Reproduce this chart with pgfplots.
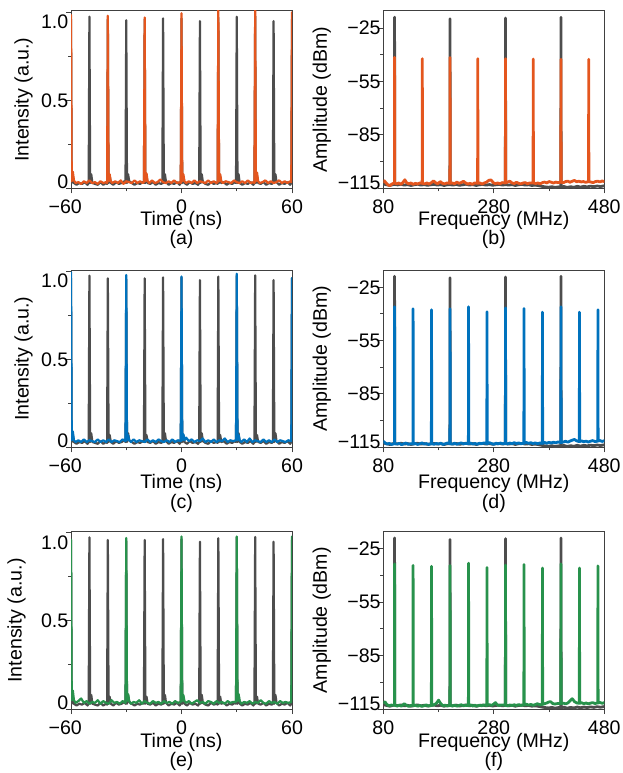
\documentclass[border=0pt]{standalone}
\usepackage{fontspec}
\setmainfont{Liberation Sans}
\usepackage{pgfplots}
\usepackage{pgfplotstable}
\pgfplotsset{compat=1.18}

\definecolor{trgray}{RGB}{77,77,77}
\definecolor{trorange}{RGB}{228,86,30}
\definecolor{trblue}{RGB}{0,114,189}
\definecolor{trgreen}{RGB}{40,146,76}

% reference trace (100 MHz), same in all panels
\pgfplotstableread[row sep=\\]{t v\\
-60 0.96\\ -59.6 0.03\\ -59 0.07\\ -58.4 0.03\\ -57 0.02\\ -55.5 0.03\\ -54 0.025\\ -52.5 0.035\\ -51 0.02\\ -50.4 0.03\\
-50 0.975\\ -49.6 0.03\\ -49 0.08\\ -48.4 0.03\\ -47 0.025\\ -45.5 0.02\\ -44 0.035\\ -42.5 0.02\\ -41 0.03\\ -40.4 0.025\\
-40 0.96\\ -39.6 0.03\\ -39 0.07\\ -38.4 0.03\\ -37 0.02\\ -35.5 0.035\\ -34 0.025\\ -32.5 0.03\\ -31 0.04\\ -30.4 0.03\\
-30 0.955\\ -29.6 0.03\\ -29 0.08\\ -28.4 0.04\\ -27 0.03\\ -25.5 0.02\\ -24 0.03\\ -22.5 0.025\\ -21 0.035\\ -20.4 0.03\\
-20 0.96\\ -19.6 0.03\\ -19 0.07\\ -18.4 0.03\\ -17 0.025\\ -15.5 0.035\\ -14 0.02\\ -12.5 0.03\\ -11 0.025\\ -10.4 0.03\\
-10 0.965\\ -9.6 0.03\\ -9 0.08\\ -8.4 0.035\\ -7 0.02\\ -5.5 0.03\\ -4 0.025\\ -2.5 0.035\\ -1 0.02\\ -0.4 0.03\\
0 0.965\\ 0.4 0.03\\ 1 0.07\\ 1.6 0.03\\ 3 0.02\\ 4.5 0.035\\ 6 0.025\\ 7.5 0.03\\ 9 0.02\\ 9.6 0.03\\
10 0.95\\ 10.4 0.03\\ 11 0.08\\ 11.6 0.035\\ 13 0.025\\ 14.5 0.02\\ 16 0.035\\ 17.5 0.025\\ 19 0.03\\ 19.6 0.025\\
20 0.97\\ 20.4 0.03\\ 21 0.07\\ 21.6 0.03\\ 23 0.035\\ 24.5 0.02\\ 26 0.03\\ 27.5 0.025\\ 29 0.035\\ 29.6 0.03\\
30 0.975\\ 30.4 0.03\\ 31 0.08\\ 31.6 0.03\\ 33 0.02\\ 34.5 0.03\\ 36 0.025\\ 37.5 0.035\\ 39 0.02\\ 39.6 0.03\\
40 0.977\\ 40.4 0.03\\ 41 0.07\\ 41.6 0.03\\ 43 0.025\\ 44.5 0.035\\ 46 0.02\\ 47.5 0.03\\ 49 0.025\\ 49.6 0.03\\
50 0.95\\ 50.4 0.03\\ 51 0.08\\ 51.6 0.035\\ 53 0.02\\ 54.5 0.03\\ 56 0.025\\ 57.5 0.035\\ 59 0.02\\ 59.6 0.03\\
60 0.96\\
}\graytime

\pgfplotstableread[row sep=\\]{t v\\
-60 0.985\\ -59.6 0.04\\ -59 0.094\\ -58.4 0.045\\ -57.5 0.03\\ -56 0.035\\ -54.5 0.025\\ -53 0.04\\ -51.5 0.03\\ -50 0.045\\ -48.5 0.03\\ -47 0.035\\ -45.5 0.025\\ -44 0.04\\ -42.5 0.03\\ -41 0.035\\ -40.4 0.03\\
-40 0.98\\ -39.6 0.04\\ -39 0.08\\ -38.4 0.04\\ -37.5 0.03\\ -36 0.04\\ -34.5 0.03\\ -33 0.045\\ -31.5 0.025\\ -30 0.04\\ -28.5 0.035\\ -27 0.03\\ -25.5 0.045\\ -24 0.03\\ -22.5 0.04\\ -21 0.03\\ -20.4 0.035\\
-20 0.97\\ -19.6 0.04\\ -19 0.085\\ -18.4 0.04\\ -17.5 0.03\\ -16 0.045\\ -14.5 0.03\\ -13 0.035\\ -11.5 0.05\\ -10 0.035\\ -8.5 0.03\\ -7 0.04\\ -5.5 0.03\\ -4 0.045\\ -2.5 0.03\\ -1 0.035\\ -0.4 0.03\\
0 0.994\\ 0.4 0.04\\ 1 0.08\\ 1.6 0.04\\ 2.5 0.03\\ 4 0.04\\ 5.5 0.03\\ 7 0.045\\ 8.5 0.03\\ 10 0.04\\ 11.5 0.035\\ 13 0.03\\ 14.5 0.045\\ 16 0.03\\ 17.5 0.04\\ 19 0.03\\ 19.6 0.035\\
20 1.02\\ 20.4 0.04\\ 21 0.08\\ 21.6 0.04\\ 22.5 0.03\\ 24 0.04\\ 25.5 0.035\\ 27 0.03\\ 28.5 0.045\\ 30 0.035\\ 31.5 0.03\\ 33 0.04\\ 34.5 0.03\\ 36 0.045\\ 37.5 0.03\\ 39 0.035\\ 39.6 0.03\\
40 1.02\\ 40.4 0.04\\ 41 0.09\\ 41.6 0.04\\ 42.5 0.03\\ 44 0.035\\ 45.5 0.045\\ 47 0.03\\ 48.5 0.04\\ 50 0.03\\ 51.5 0.035\\ 53 0.045\\ 54.5 0.03\\ 56 0.04\\ 57.5 0.03\\ 59 0.04\\ 59.6 0.035\\
60 1.0\\
}\orangetime

\pgfplotstableread[row sep=\\]{t v\\
-60 0.994\\ -59.6 0.04\\ -59 0.09\\ -58.4 0.04\\ -57.5 0.03\\ -56 0.04\\ -54.5 0.03\\ -53 0.045\\ -51.5 0.03\\ -50 0.04\\ -48.5 0.035\\ -47 0.03\\ -45.5 0.045\\ -44 0.03\\ -42.5 0.04\\ -41 0.03\\ -39.5 0.045\\ -38 0.03\\ -36.5 0.04\\ -35 0.035\\ -33.5 0.03\\ -32 0.045\\ -30.4 0.035\\
-30 0.979\\ -29.6 0.04\\ -29 0.07\\ -28.4 0.04\\ -27.5 0.03\\ -26 0.045\\ -24.5 0.03\\ -23 0.04\\ -21.5 0.035\\ -20 0.03\\ -18.5 0.045\\ -17 0.03\\ -15.5 0.04\\ -14 0.03\\ -12.5 0.045\\ -11 0.035\\ -9.5 0.03\\ -8 0.04\\ -6.5 0.03\\ -5 0.045\\ -3.5 0.03\\ -2 0.04\\ -0.4 0.035\\
0 0.97\\ 0.4 0.04\\ 1 0.075\\ 1.6 0.04\\ 2.5 0.055\\ 4 0.035\\ 5.5 0.045\\ 7 0.03\\ 8.5 0.04\\ 10 0.035\\ 11.5 0.05\\ 13 0.03\\ 14.5 0.04\\ 16 0.03\\ 17.5 0.045\\ 19 0.03\\ 20.5 0.04\\ 22 0.035\\ 23.5 0.05\\ 25 0.03\\ 26.5 0.04\\ 28 0.035\\ 29.6 0.04\\
30 0.986\\ 30.4 0.04\\ 31 0.07\\ 31.6 0.04\\ 32.5 0.03\\ 34 0.045\\ 35.5 0.03\\ 37 0.05\\ 38.5 0.03\\ 40 0.04\\ 41.5 0.035\\ 43 0.03\\ 44.5 0.045\\ 46 0.03\\ 47.5 0.04\\ 49 0.03\\ 50.5 0.045\\ 52 0.03\\ 53.5 0.04\\ 55 0.035\\ 56.5 0.03\\ 58 0.04\\ 59.6 0.035\\
60 0.962\\
}\bluetime

\pgfplotstableread[row sep=\\]{t v\\
-60 0.963\\ -59.6 0.05\\ -59 0.105\\ -58.4 0.05\\ -57.5 0.035\\ -56 0.045\\ -54.5 0.06\\ -53 0.035\\ -51.5 0.045\\ -50 0.03\\ -48.5 0.04\\ -47 0.035\\ -45.5 0.05\\ -44 0.03\\ -42.5 0.045\\ -41 0.035\\ -39.5 0.03\\ -38 0.05\\ -36.5 0.035\\ -35 0.04\\ -33.5 0.03\\ -32 0.045\\ -30.4 0.035\\
-30 0.972\\ -29.6 0.045\\ -29 0.085\\ -28.4 0.045\\ -27.5 0.03\\ -26 0.04\\ -24.5 0.035\\ -23 0.05\\ -21.5 0.03\\ -20 0.045\\ -18.5 0.035\\ -17 0.03\\ -15.5 0.045\\ -14 0.035\\ -12.5 0.04\\ -11 0.03\\ -9.5 0.045\\ -8 0.035\\ -6.5 0.04\\ -5 0.03\\ -3.5 0.045\\ -2 0.035\\ -0.4 0.04\\
0 0.98\\ 0.4 0.045\\ 1 0.08\\ 1.6 0.045\\ 2.5 0.035\\ 4 0.045\\ 5.5 0.03\\ 7 0.04\\ 8.5 0.05\\ 10 0.035\\ 11.5 0.04\\ 13 0.03\\ 14.5 0.045\\ 16 0.04\\ 17.5 0.03\\ 19 0.045\\ 20.5 0.035\\ 22 0.04\\ 23.5 0.03\\ 25 0.045\\ 26.5 0.035\\ 28 0.04\\ 29.6 0.04\\
30 0.98\\ 30.4 0.045\\ 31 0.085\\ 31.6 0.045\\ 32.5 0.03\\ 34 0.04\\ 35.5 0.035\\ 37 0.045\\ 38.5 0.03\\ 40 0.04\\ 41.5 0.035\\ 43 0.05\\ 44.5 0.035\\ 46 0.03\\ 47.5 0.045\\ 49 0.035\\ 50.5 0.04\\ 52 0.03\\ 53.5 0.045\\ 55 0.035\\ 56.5 0.04\\ 58 0.035\\ 59.6 0.04\\
60 0.98\\
}\greentime

% spectra
\pgfplotstableread[row sep=\\]{f a\\
80 -112.6\\ 86 -113\\ 92 -113.4\\ 98 -112.9\\ 100.1 -112.8\\ 100.4 -18.8\\ 100.7 -112.8\\ 106 -113.1\\ 112 -112.7\\ 118 -113.2\\ 124 -112.9\\ 130 -113.4\\ 136 -113\\ 142 -112.7\\ 148 -113.2\\ 154 -112.9\\ 160 -113.3\\ 166 -113\\ 172 -112.8\\ 178 -113.2\\ 184 -112.9\\ 190 -113.4\\ 196 -113\\
200.5 -112.9\\ 200.8 -19.7\\ 201.1 -112.9\\ 206 -113.2\\ 212 -112.8\\ 218 -113.3\\ 224 -113\\ 230 -112.7\\ 236 -113.2\\ 242 -112.9\\ 248 -113.4\\ 254 -113\\ 260 -112.8\\ 266 -113.2\\ 272 -112.9\\ 278 -113.3\\ 284 -113\\ 290 -112.8\\ 296 -113.2\\
300.9 -112.9\\ 301.2 -19.2\\ 301.5 -112.9\\ 307 -113.2\\ 313 -112.9\\ 319 -113.4\\ 325 -113\\ 331 -112.8\\ 337 -113.2\\ 343 -113\\ 349 -113.4\\ 355 -113.2\\ 361 -113.5\\ 367 -113.9\\ 373 -114.2\\ 379 -114.4\\ 385 -114.1\\ 391 -114.5\\ 397 -114.2\\
401.3 -114.3\\ 401.6 -18.8\\ 401.9 -114.3\\ 407 -114\\ 413 -114.5\\ 419 -114.1\\ 425 -114.4\\ 431 -113.9\\ 437 -114.3\\ 443 -113.9\\ 449 -114.2\\ 455 -113.8\\ 461 -114.1\\ 467 -113.7\\ 473 -114\\ 480 -113.6\\
}\grayfreq

\pgfplotstableread[row sep=\\]{f a\\
80 -111.5\\ 82 -110.8\\ 85 -112\\ 88 -113\\ 92 -113.5\\ 96 -112.5\\ 100.1 -112\\ 100.4 -41.3\\ 100.7 -112\\ 104 -112.5\\ 108 -112\\ 112 -112.8\\ 116 -111.5\\ 119 -110.2\\ 122 -111.8\\ 126 -112.5\\ 130 -112\\ 134 -112.8\\ 138 -112.2\\ 142 -112.6\\ 146 -112\\
150.3 -112.2\\ 150.6 -42.1\\ 150.9 -112.2\\ 155 -112.5\\ 159 -112\\ 163 -112.6\\ 167 -111.8\\ 171 -110.8\\ 175 -112\\ 179 -112.4\\ 183 -111.2\\ 187 -112.2\\ 191 -112.5\\ 195 -112\\
200.5 -112.2\\ 200.8 -41.5\\ 201.1 -112.2\\ 205 -112\\ 209 -112.5\\ 213 -111.5\\ 217 -112.2\\ 221 -111.8\\ 225 -111\\ 229 -112\\ 233 -112.6\\ 237 -112.2\\ 241 -112.8\\ 245 -112\\
250.7 -112.2\\ 251 -42.1\\ 251.3 -112.2\\ 255 -112\\ 259 -112.6\\ 263 -112\\ 267 -111.5\\ 271 -110.5\\ 275 -110.3\\ 279 -111.8\\ 283 -112.4\\ 287 -112\\ 291 -112.5\\ 295 -111.8\\
300.9 -112\\ 301.2 -42.1\\ 301.5 -112\\ 305 -111.5\\ 309 -111\\ 313 -112\\ 317 -112.3\\ 321 -111.6\\ 325 -112.2\\ 329 -112.5\\ 333 -112\\ 337 -111.8\\ 341 -112.4\\ 345 -112\\
351.1 -112\\ 351.4 -42.3\\ 351.7 -112\\ 356 -112.3\\ 360 -112\\ 364 -112.5\\ 368 -111.8\\ 372 -111.5\\ 376 -112\\ 380 -111.2\\ 384 -111.6\\ 388 -112\\ 392 -111.5\\ 396 -111.8\\
401.3 -111.6\\ 401.6 -42.5\\ 401.9 -111.6\\ 406 -111.8\\ 410 -111.2\\ 414 -111\\ 418 -111.6\\ 422 -111\\ 426 -110.6\\ 430 -111.3\\ 434 -111\\ 438 -111.4\\ 442 -111.2\\ 446 -111.6\\
451.5 -111.3\\ 451.8 -42.5\\ 452.1 -111.3\\ 456 -111.5\\ 460 -111.8\\ 464 -111.2\\ 468 -111\\ 472 -111.4\\ 476 -110.9\\ 480 -111.2\\
}\orangefreq

\pgfplotstableread[row sep=\\]{f a\\
80 -111.6\\ 83 -112.5\\ 87 -113.2\\ 91 -112.8\\ 95 -113.4\\ 100.1 -113\\ 100.4 -36\\ 100.7 -113\\ 105 -113.2\\ 109 -112.8\\ 113 -113.5\\ 117 -113\\ 121 -112.6\\ 125 -113.3\\ 129 -113\\
133.6 -113.2\\ 133.9 -37.1\\ 134.2 -113.2\\ 138 -112.8\\ 142 -113.4\\ 146 -113\\ 150 -112.5\\ 154 -113.2\\ 158 -112.9\\ 162 -113.4\\
167 -113\\ 167.3 -37.7\\ 167.6 -113\\ 172 -113.3\\ 176 -112.8\\ 180 -113.2\\ 184 -112.7\\ 188 -113.4\\ 192 -113\\ 196 -112.6\\
200.5 -113\\ 200.8 -37.1\\ 201.1 -113\\ 205 -113.2\\ 209 -112.7\\ 213 -113.3\\ 217 -112.9\\ 221 -112.5\\ 225 -113.1\\ 229 -112.8\\
234 -113\\ 234.3 -36\\ 234.6 -113\\ 238 -112.6\\ 242 -113.2\\ 246 -112.8\\ 250 -113.3\\ 254 -112.7\\ 258 -113\\ 262 -112.5\\
267.4 -113\\ 267.7 -38.8\\ 268 -113\\ 272 -112.4\\ 276 -112.9\\ 280 -113.3\\ 284 -112.7\\ 288 -113.1\\ 292 -112.6\\ 296 -113\\
300.9 -112.8\\ 301.2 -36.6\\ 301.5 -112.8\\ 305 -113.1\\ 309 -112.6\\ 313 -113\\ 317 -112.4\\ 321 -112.9\\ 325 -112.5\\ 329 -113\\
334.4 -112.7\\ 334.7 -37\\ 335 -112.7\\ 339 -112.3\\ 343 -112.8\\ 347 -112.4\\ 351 -112.9\\ 355 -112.5\\ 359 -113\\ 363 -112.6\\
367.8 -112.8\\ 368.1 -39\\ 368.4 -112.8\\ 372 -112.3\\ 376 -112.7\\ 380 -112.2\\ 384 -112.6\\ 388 -112.1\\ 392 -112.5\\ 396 -112\\
401.3 -112.3\\ 401.6 -36\\ 401.9 -112.3\\ 406 -112\\ 410 -111.6\\ 414 -112.1\\ 418 -111.5\\ 422 -111\\ 426 -110.6\\ 430 -111.4\\
434.8 -111.8\\ 435.1 -39\\ 435.4 -111.8\\ 439 -111.4\\ 443 -111.9\\ 447 -111.5\\ 451 -112\\ 455 -111.6\\ 459 -111.2\\ 463 -111.8\\
468.2 -111.5\\ 468.5 -37.7\\ 468.8 -111.5\\ 472 -111.2\\ 476 -111.7\\ 480 -111.3\\
}\bluefreq

\pgfplotstableread[row sep=\\]{f a\\
80 -111.5\\ 83 -110.9\\ 86 -112.3\\ 90 -113.2\\ 94 -112.8\\ 100.1 -112.9\\ 100.4 -33.4\\ 100.7 -112.9\\ 105 -113.3\\ 109 -112.9\\ 113 -113.4\\ 118 -112\\ 122 -113\\ 126 -113.5\\ 130 -113\\
133.6 -113.2\\ 133.9 -34.2\\ 134.2 -113.2\\ 138 -112.8\\ 142 -113.4\\ 146 -113\\ 150 -113.5\\ 154 -113.1\\ 158 -112.7\\ 162 -113.3\\
167 -113\\ 167.3 -34.7\\ 167.6 -113\\ 172 -112.6\\ 176 -111.8\\ 180 -110\\ 184 -112\\ 188 -113.2\\ 192 -112.8\\ 196 -113.3\\
200.5 -113\\ 200.8 -34.3\\ 201.1 -113\\ 205 -113.3\\ 209 -112.8\\ 213 -113.4\\ 217 -113\\ 221 -112.6\\ 225 -113.2\\ 229 -112.9\\
234 -113.1\\ 234.3 -33\\ 234.6 -113.1\\ 238 -112.7\\ 242 -113.3\\ 246 -112.9\\ 250 -113.4\\ 254 -112.8\\ 258 -113.2\\ 262 -112.7\\
267.4 -113\\ 267.7 -35.5\\ 268 -113\\ 272 -112.5\\ 276 -113\\ 280 -112.2\\ 283 -111.4\\ 286 -112.6\\ 290 -113.1\\ 294 -112.7\\
300.9 -112.9\\ 301.2 -34\\ 301.5 -112.9\\ 305 -113.2\\ 309 -112.7\\ 313 -113.1\\ 317 -112.6\\ 321 -113\\ 325 -112.5\\ 329 -113\\
334.4 -112.7\\ 334.7 -33.8\\ 335 -112.7\\ 339 -112.3\\ 343 -112.8\\ 347 -112.4\\ 351 -112.9\\ 355 -112.5\\ 359 -112\\ 363 -112.6\\
367.8 -112.4\\ 368.1 -35.7\\ 368.4 -112.4\\ 372 -112\\ 376 -111.6\\ 380 -111\\ 383 -110.9\\ 386 -111.8\\ 390 -112.2\\ 396 -111.9\\
401.3 -112\\ 401.6 -33.4\\ 401.9 -112\\ 406 -111.7\\ 410 -112.1\\ 414 -111.6\\ 418 -110.4\\ 422 -109.2\\ 426 -110.8\\ 430 -111.6\\
434.8 -111.8\\ 435.1 -35.7\\ 435.4 -111.8\\ 439 -111.5\\ 443 -112\\ 447 -111.6\\ 451 -112.1\\ 455 -111.7\\ 459 -111.4\\ 463 -111.9\\
468.2 -111.6\\ 468.5 -34.5\\ 468.8 -111.6\\ 472 -111.3\\ 476 -111.8\\ 480 -111.4\\
}\greenfreq

\pgfplotsset{
  panel/.style={
    scale only axis, width=221pt, height=177.3pt,
    anchor=north west,
    axis line style={draw=black!75, line width=1pt},
    tick align=outside, xtick pos=bottom, ytick pos=left,
    major tick length=5pt, minor tick length=3pt,
    tick style={black!75, line width=1pt},
    xticklabel style={inner sep=1pt, yshift=-5.5pt},
    yticklabel style={inner sep=2.5pt},
    every axis plot/.append style={line width=2.2pt, line join=round, line cap=round},
    x label style={anchor=north, align=center, inner sep=0pt},
    y label style={anchor=center, inner sep=0pt},
  },
  timeax/.style={panel,
    xmin=-60, xmax=60, ymin=0, ymax=1.007,
    xtick={-60,0,60}, xticklabels={\llap{−}60,0,60}, minor xtick={-30,30},
    ytick={0,0.5,1}, yticklabels={,,}, minor ytick={0.25,0.75},
    extra y ticks={0.036,0.5,0.947}, extra y tick labels={0,0.5,1.0},
    extra y tick style={major tick length=0pt},
    ylabel={Intensity (a.u.)},
  },
  freqax/.style={panel,
    xmin=80, xmax=480, ymin=-115, ymax=-15.3,
    xtick={80,280,480}, xticklabels={80,280,480}, minor xtick={180,380},
    ytick={-115,-85,-55,-25}, yticklabels={,,,}, minor ytick={-100,-70,-40},
    extra y ticks={-111.85,-85,-55,-25}, extra y tick labels={−115,−85,−55,−25},
    extra y tick style={major tick length=0pt},
    every axis plot/.append style={line width=2.8pt},
    ylabel={Amplitude (dBm)},
    y label style={at={(axis description cs:-0.2783,0.5)}},
  },
}

\begin{document}
\fontsize{19.6}{21.5}\selectfont
\begin{tikzpicture}
\useasboundingbox (0,0) rectangle (623pt,-773pt);

% (a)
\begin{axis}[timeax, at={(71pt,-11pt)},
  y label style={at={(axis description cs:-0.2149,0.5)}},
  x label style={at={(axis description cs:0.5,-0.128)}},
  xlabel={Time (ns)\\[-2pt](a)}]
\addplot[trgray] table[x=t,y=v]{\graytime};
\addplot[trorange] table[x=t,y=v]{\orangetime};
\end{axis}

% (b)
\begin{axis}[freqax, at={(383.3pt,-11pt)},
  x label style={at={(axis description cs:0.5,-0.128)}},
  xlabel={Frequency (MHz)\\[-2pt](b)}]
\addplot[trgray] table[x=f,y=a]{\grayfreq};
\addplot[trorange] table[x=f,y=a]{\orangefreq};
\end{axis}

% (c)
\begin{axis}[timeax, at={(71pt,-270pt)},
  y label style={at={(axis description cs:-0.2149,0.5)}},
  x label style={at={(axis description cs:0.5,-0.1523)}},
  xlabel={Time (ns)\\[-2pt](c)}]
\addplot[trgray] table[x=t,y=v]{\graytime};
\addplot[trblue] table[x=t,y=v]{\bluetime};
\end{axis}

% (d)
\begin{axis}[freqax, at={(383.3pt,-270pt)},
  x label style={at={(axis description cs:0.5,-0.1523)}},
  xlabel={Frequency (MHz)\\[-2pt](d)}]
\addplot[trgray] table[x=f,y=a]{\grayfreq};
\addplot[trblue] table[x=f,y=a]{\bluefreq};
\end{axis}

% (e)
\begin{axis}[timeax, at={(71pt,-531.7pt)},
  y label style={at={(axis description cs:-0.2466,0.5)}},
  x label style={at={(axis description cs:0.5,-0.1354)}},
  xlabel={Time (ns)\\[-2pt](e)}]
\addplot[trgray] table[x=t,y=v]{\graytime};
\addplot[trgreen] table[x=t,y=v]{\greentime};
\end{axis}

% (f)
\begin{axis}[freqax, at={(383.3pt,-531.7pt)},
  x label style={at={(axis description cs:0.5,-0.1354)}},
  xlabel={Frequency (MHz)\\[-2pt](f)}]
\addplot[trgray] table[x=f,y=a]{\grayfreq};
\addplot[trgreen] table[x=f,y=a]{\greenfreq};
\end{axis}
\end{tikzpicture}
\end{document}
